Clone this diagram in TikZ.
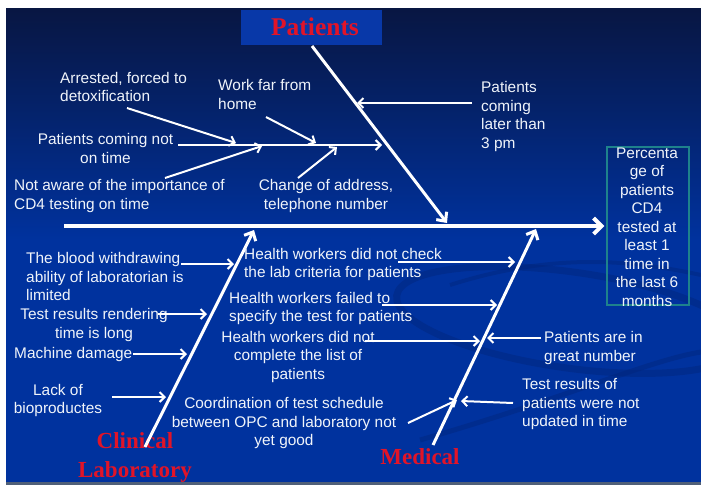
\documentclass[tikz,border=0pt]{standalone}
\usepackage{fontspec}
\setmainfont{Liberation Sans}
\newfontfamily\serifbold{Liberation Serif}
\usetikzlibrary{arrows.meta}

\definecolor{navy}{RGB}{8,22,66}
\definecolor{slideblue}{RGB}{0,50,158}
\definecolor{swoosh}{RGB}{0,36,120}
\definecolor{titlebox}{RGB}{8,56,168}
\definecolor{effectedge}{RGB}{30,130,140}
\definecolor{headred}{RGB}{225,20,40}
\definecolor{labelwhite}{RGB}{240,244,250}
\definecolor{basebar}{RGB}{80,96,120}

\tikzset{
  lbl/.style={text=labelwhite, inner sep=0pt, font=\fontsize{15.4}{18.5}\selectfont},
  head/.style={text=headred, inner sep=0pt, font=\serifbold\bfseries\fontsize{23}{29}\selectfont},
  spine/.style={draw=white, line width=4pt, -{Straight Barb[length=8pt,width=16pt]}},
  bone/.style={draw=white, line width=3pt, -{Straight Barb[length=7pt,width=13pt]}},
  twig/.style={draw=white, line width=2pt, -{Straight Barb[length=5pt,width=10pt]}},
}

\begin{document}
\begin{tikzpicture}[x=1pt,y=-1pt]
\useasboundingbox (0,0) rectangle (701,485);

% slide background
\fill[white] (0,0) rectangle (701,485);
\shade[top color=navy, bottom color=slideblue] (6,8) rectangle (701,240);
\fill[slideblue] (6,239) rectangle (701,482);
\fill[basebar] (6,482) rectangle (701,485);

% faint decorative swooshes
\begin{scope}[draw=swoosh, opacity=0.4]
  \draw[line width=7pt, rotate around={-8:(570,320)}] (570,320) ellipse [x radius=175, y radius=48];
  \draw[line width=5pt] (420,440) .. controls (560,400) and (650,360) .. (701,352);
  \draw[line width=4pt] (450,285) .. controls (560,250) and (640,262) .. (701,275);
\end{scope}

% heading box and category labels
\fill[titlebox] (241,10) rectangle (382,45);
\node[head, font=\serifbold\bfseries\fontsize{25.5}{30}\selectfont] (hPatients) at (315,27) {Patients};
\node[head, align=center] (hClinical) at (135,457.5) {Clinical\\Laboratory};
\node[head] (hMedical) at (420,457) {Medical};

% effect box
\node[draw=effectedge, line width=1.2pt, minimum width=82pt, minimum height=158pt, inner sep=0pt] (effectBox) at (648,226) {};
\node[lbl, align=center] (effect) at (647,227)
  {Percenta\\ge of\\patients\\CD4\\tested at\\least 1\\time in\\the last 6\\months};

% spine and main bones
\coordinate (spineStart) at (64,226);
\coordinate (pTop) at (312,46);
\coordinate (pEnd) at (447,223);
\coordinate (cBottom) at (145,447);
\coordinate (cEnd) at (254,230);
\coordinate (mBottom) at (433,445);
\coordinate (mEnd) at (536,229);
\draw[spine, shorten >=2pt] (spineStart) -- (effectBox.west);
\draw[bone] (pTop) -- (pEnd);
\draw[bone] (cBottom) -- (cEnd);
\draw[bone] (mBottom) -- (mEnd);

% Patients causes
\node[lbl, anchor=west, align=left] (arrested) at (60,87) {Arrested, forced to\\detoxification};
\node[lbl, anchor=west, align=left] (work) at (218,94.5) {Work far from\\home};
\node[lbl, align=center] (notOnTime) at (105.5,148.5) {Patients coming not\\on time};
\node[lbl, anchor=west, align=left] (notAware) at (14,196) {Not aware of the importance of\\CD4 testing on time};
\node[lbl, align=center] (address) at (326,196) {Change of address,\\telephone number};
\node[lbl, anchor=west, align=left] (later) at (481,116.5) {Patients\\coming\\later than\\3 pm};

\coordinate (subStart) at (178,145);
\coordinate (subEnd) at (382,145);
\coordinate (arrA) at (127,108);  \coordinate (arrB) at (236,143);
\coordinate (workA) at (266,117); \coordinate (workB) at (316,143);
\coordinate (awareA) at (165,178); \coordinate (awareB) at (262,146);
\coordinate (addrA) at (298,178); \coordinate (addrB) at (337,147);
\coordinate (lateA) at (472,103); \coordinate (lateB) at (357,103);
\draw[twig] (subStart) -- (subEnd);
\draw[twig] (arrA) -- (arrB);
\draw[twig] (workA) -- (workB);
\draw[twig] (awareA) -- (awareB);
\draw[twig] (addrA) -- (addrB);
\draw[twig] (lateA) -- (lateB);

% Clinical laboratory causes
\node[lbl, anchor=west, align=left] (blood) at (26,276.5) {The blood withdrawing\\ability of laboratorian is\\limited};
\node[lbl, align=center] (render) at (94,325) {Test results rendering\\time is long};
\node[lbl, anchor=west] (machine) at (14,354.5) {Machine damage};
\node[lbl, align=center] (lack) at (58,400.5) {Lack of\\bioproductes};

\coordinate (bloodA) at (181,264);  \coordinate (bloodB) at (234,264);
\coordinate (renderA) at (158,314); \coordinate (renderB) at (207,314);
\coordinate (machA) at (133,354);   \coordinate (machB) at (187,354);
\coordinate (lackA) at (112,397);   \coordinate (lackB) at (166,397);
\draw[twig] (bloodA) -- (bloodB);
\draw[twig] (renderA) -- (renderB);
\draw[twig] (machA) -- (machB);
\draw[twig] (lackA) -- (lackB);

% Medical causes
\node[lbl, anchor=west, align=left] (check) at (244,264.5) {Health workers did not check\\the lab criteria for patients};
\node[lbl, anchor=west, align=left] (failed) at (229,308.5) {Health workers failed to\\specify the test for patients};
\node[lbl, align=center] (list) at (298,357) {Health workers did not\\complete the list of\\patients};
\node[lbl, align=center] (coord) at (284,423.5) {Coordination of test schedule\\between OPC and laboratory not\\yet good};
\node[lbl, anchor=west, align=left] (great) at (544,348) {Patients are in\\great number};
\node[lbl, anchor=west, align=left] (updated) at (522,404.5) {Test results of\\patients were not\\updated in time};

\coordinate (checkA) at (398,262);  \coordinate (checkB) at (515,262);
\coordinate (failA) at (382,305);   \coordinate (failB) at (497,305);
\coordinate (listA) at (365,341);   \coordinate (listB) at (480,341);
\coordinate (greatA) at (541,338);  \coordinate (greatB) at (487,338);
\coordinate (coordA) at (408,423);  \coordinate (coordB) at (457,400);
\coordinate (updA) at (513,403);    \coordinate (updB) at (461,401);
\draw[twig] (checkA) -- (checkB);
\draw[twig] (failA) -- (failB);
\draw[twig] (listA) -- (listB);
\draw[twig] (greatA) -- (greatB);
\draw[twig] (coordA) -- (coordB);
\draw[twig] (updA) -- (updB);
\end{tikzpicture}
\end{document}
